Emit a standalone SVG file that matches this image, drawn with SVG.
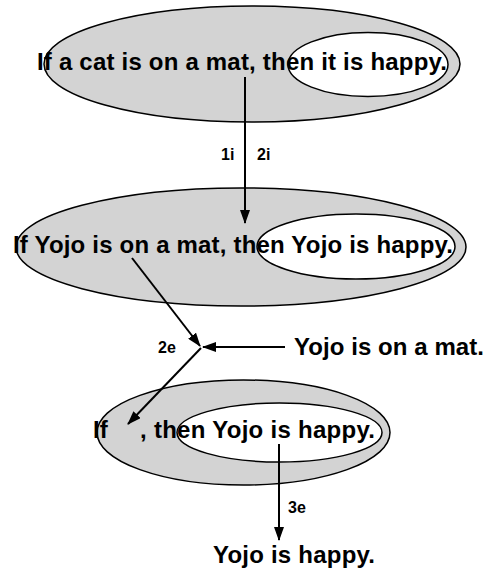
<svg xmlns="http://www.w3.org/2000/svg" width="487" height="569" viewBox="0 0 487 569">
<style>
.outer{fill:#d3d3d3;stroke:#000;stroke-width:1.5}
.inner{fill:#fff;stroke:#000;stroke-width:1.5}
.t{font-family:"Liberation Sans",Arial,sans-serif;font-weight:bold;font-size:24px;fill:#000}
.l{font-family:"Liberation Sans",Arial,sans-serif;font-weight:bold;font-size:16px;fill:#000}
.c{stroke:#000;stroke-width:2;fill:none;marker-end:url(#ah)}
</style>
<defs>
<marker id="ah" markerWidth="14" markerHeight="10" refX="13" refY="5" orient="auto" markerUnits="userSpaceOnUse">
<path d="M0,0 L14,5 L0,10 Z" fill="#000"/>
</marker>
</defs>
<g id="node1">
<ellipse class="outer" cx="252" cy="64" rx="208" ry="58"/>
<ellipse class="inner" cx="368" cy="64.5" rx="80" ry="32"/>
<text class="t" x="37" y="70" textLength="410" lengthAdjust="spacing">If a cat is on a mat, then it is happy.</text>
</g>
<g id="node2">
<ellipse class="outer" cx="241" cy="247" rx="225" ry="59"/>
<ellipse class="inner" cx="356" cy="246.5" rx="99" ry="32.5"/>
<text class="t" x="13" y="253" textLength="440" lengthAdjust="spacing">If Yojo is on a mat, then Yojo is happy.</text>
</g>
<g id="node3">
<text class="t" x="294" y="355" textLength="190" lengthAdjust="spacing">Yojo is on a mat.</text>
</g>
<g id="node4">
<ellipse class="outer" cx="243.5" cy="432.5" rx="146.5" ry="52.5"/>
<ellipse class="inner" cx="279.5" cy="432.5" rx="102.5" ry="29.5"/>
<text class="t" x="93" y="438">If</text>
<text class="t" x="140" y="438" textLength="235" lengthAdjust="spacing">, then Yojo is happy.</text>
</g>
<g id="node5">
<text class="t" x="213" y="563" textLength="162" lengthAdjust="spacing">Yojo is happy.</text>
</g>
<g id="connectors">
<line class="c" x1="245" y1="77" x2="245" y2="223"/>
<text class="l" x="221" y="160">1i</text>
<text class="l" x="257" y="160">2i</text>
<line class="c" x1="132" y1="258" x2="200" y2="346"/>
<line class="c" x1="285" y1="347" x2="203" y2="347"/>
<line class="c" x1="201" y1="348" x2="128" y2="424"/>
<text class="l" x="158" y="353">2e</text>
<line class="c" x1="279" y1="444" x2="279" y2="540"/>
<text class="l" x="288" y="513">3e</text>
</g>
</svg>
